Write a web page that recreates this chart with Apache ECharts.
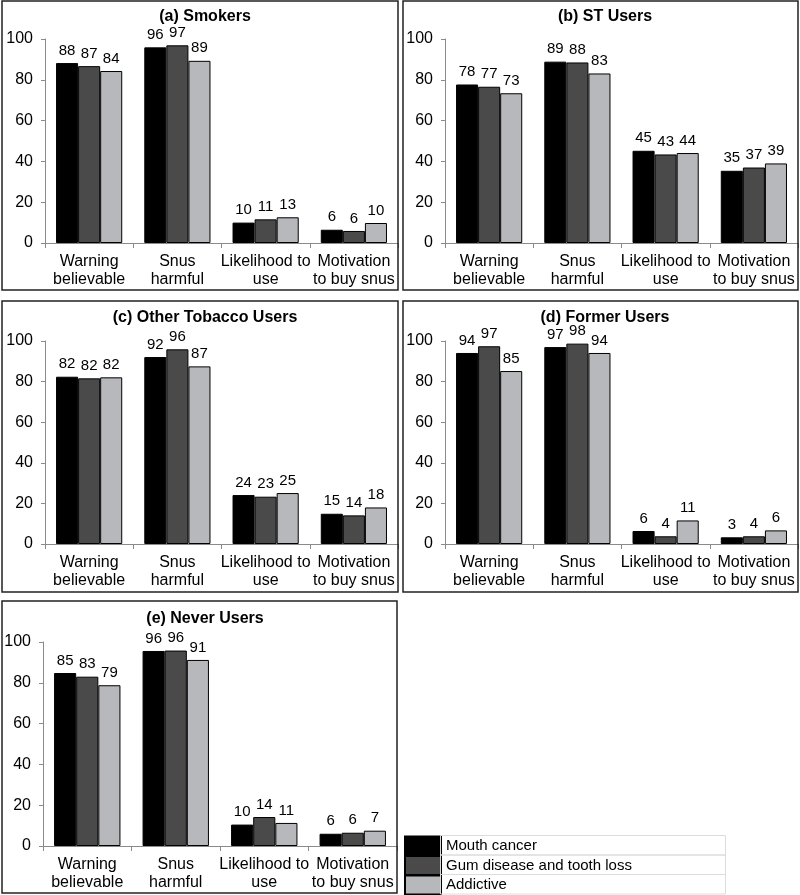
<!DOCTYPE html>
<html>
<head>
<meta charset="utf-8">
<script src="https://cdn.jsdelivr.net/npm/echarts@6/dist/echarts.min.js"></script>
<style>
html,body{margin:0;padding:0;background:#fff;}
#chart{width:800px;height:895px;}
</style>
</head>
<body>
<div id="chart"></div>
<script>
// ---- data ----
var categories = ['Warning\nbelievable', 'Snus\nharmful', 'Likelihood to\nuse', 'Motivation\nto buy snus'];
var seriesNames = ['Mouth cancer', 'Gum disease and tooth loss', 'Addictive'];
var panelTitles = ['(a) Smokers', '(b) ST Users', '(c) Other Tobacco Users', '(d) Former Users', '(e) Never Users'];
var yTicks = [0, 20, 40, 60, 80, 100];

// bar heights (as drawn) per panel: [mouth cancer, gum disease, addictive]
var smokersValues = [[88.2, 95.9, 10.0, 6.5], [86.7, 96.9, 11.6, 5.9], [84.3, 89.3, 12.6, 9.8]];
var stUsersValues = [[77.7, 88.9, 45.2, 35.4], [76.6, 88.5, 43.4, 37.0], [73.4, 83.1, 44.1, 39.0]];
var otherValues   = [[82.4, 92.1, 24.1, 14.9], [81.6, 95.9, 23.3, 14.1], [82.1, 87.5, 25.1, 18.0]];
var formerValues  = [[94.1, 97.0, 6.4, 3.3], [97.4, 98.7, 3.8, 3.8], [85.2, 94.1, 11.6, 6.7]];
var neverValues   = [[84.8, 95.6, 10.5, 6.0], [83.0, 95.8, 14.2, 6.5], [78.8, 91.2, 11.3, 7.5]];

// printed value labels
var smokersLabels = [[88, 96, 10, 6], [87, 97, 11, 6], [84, 89, 13, 10]];
var stUsersLabels = [[78, 89, 45, 35], [77, 88, 43, 37], [73, 83, 44, 39]];
var otherLabels   = [[82, 92, 24, 15], [82, 96, 23, 14], [82, 87, 25, 18]];
var formerLabels  = [[94, 97, 6, 3], [97, 98, 4, 4], [85, 94, 11, 6]];
var neverLabels   = [[85, 96, 10, 6], [83, 96, 14, 6], [79, 91, 11, 7]];

var panelValues = [smokersValues, stUsersValues, otherValues, formerValues, neverValues];
var panelLabels = [smokersLabels, stUsersLabels, otherLabels, formerLabels, neverLabels];

// ---- layout ----
var FONT = "'Liberation Sans', Arial, Helvetica, sans-serif";
var colors = ['#000000', '#4a4a4a', '#b7b8bc'];
var grids = [
  {left: 45, top: 39, width: 353, height: 204},
  {left: 445, top: 39, width: 353, height: 204},
  {left: 45, top: 341, width: 353, height: 203},
  {left: 445, top: 341, width: 353, height: 203},
  {left: 43, top: 642, width: 354, height: 204}
];
var titlePos = [[200, 4], [600, 4], [200, 305], [600, 305], [200, 606]];
var borders = [
  [2, 1, 396, 289], [403, 1, 395, 289],
  [2, 301, 396, 291], [403, 301, 395, 291],
  [2, 601, 395, 292]
];

var option = {
  animation: false,
  backgroundColor: '#ffffff',
  textStyle: {fontFamily: FONT},
  title: [], grid: [], xAxis: [], yAxis: [], series: [],
  legend: [],
  graphic: []
};

for (var li = 0; li < 3; li++) {
  option.legend.push({
    data: [seriesNames[li]],
    orient: 'vertical',
    left: 404, top: 835.5 + li * 19.5,
    itemWidth: 36, itemHeight: 19,
    icon: 'rect',
    padding: 0,
    selectedMode: false,
    textStyle: {fontFamily: FONT, fontSize: 15, color: '#000'}
  });
}

for (var p = 0; p < 5; p++) {
  option.title.push({
    text: panelTitles[p], left: titlePos[p][0], top: titlePos[p][1], textAlign: 'center',
    textStyle: {fontFamily: FONT, fontSize: 16, fontWeight: 'bold', color: '#000'}
  });
  option.grid.push(grids[p]);
  option.xAxis.push({
    type: 'category', gridIndex: p, data: categories,
    axisLine: {lineStyle: {color: '#8a8a8a', width: 1}},
    axisTick: {show: true, length: 5, lineStyle: {color: '#8a8a8a'}},
    axisLabel: {fontFamily: FONT, fontSize: 16, color: '#000', lineHeight: 18, margin: 10, interval: 0}
  });
  option.yAxis.push({
    type: 'value', gridIndex: p, min: 0, max: 100, interval: 20,
    splitLine: {show: false},
    axisLine: {show: true, lineStyle: {color: '#8a8a8a', width: 1}},
    axisTick: {show: true, length: 4, lineStyle: {color: '#8a8a8a'}},
    axisLabel: {fontFamily: FONT, fontSize: 16, color: '#000', margin: 12}
  });
  for (var s = 0; s < 3; s++) {
    (function (p, s) {
      option.series.push({
        type: 'bar', name: seriesNames[s], xAxisIndex: p, yAxisIndex: p,
        data: panelValues[p][s],
        barGap: '0%', barCategoryGap: '25%',
        itemStyle: {color: colors[s], borderColor: '#000', borderWidth: 1},
        label: {
          show: true, position: 'top', distance: 5,
          fontFamily: FONT, fontSize: 15, color: '#000',
          formatter: function (params) { return String(panelLabels[p][s][params.dataIndex]); }
        }
      });
    })(p, s);
  }
  option.graphic.push({
    type: 'rect', z: 100, silent: true,
    shape: {x: borders[p][0], y: borders[p][1], width: borders[p][2], height: borders[p][3]},
    style: {fill: 'none', stroke: '#222', lineWidth: 1.5}
  });
}
// legend table cell borders
for (var r = 0; r < 3; r++) {
  option.graphic.push({
    type: 'rect', z: 100, silent: true,
    shape: {x: 440.5, y: 835.5 + r * 19.5, width: 285, height: 19.5},
    style: {fill: 'none', stroke: '#dcdcdc', lineWidth: 1}
  });
}

var chart = echarts.init(document.getElementById('chart'), null, {renderer: 'canvas'});
chart.setOption(option);
</script>
</body>
</html>
